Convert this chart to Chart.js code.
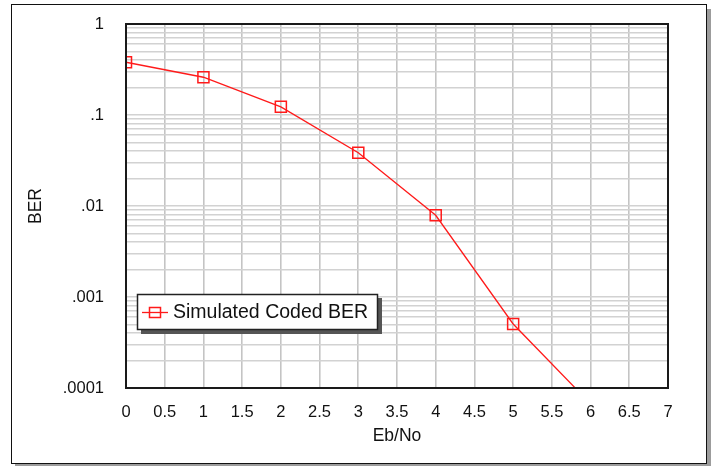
<!DOCTYPE html>
<html>
<head>
<meta charset="utf-8">
<script src="https://cdn.jsdelivr.net/npm/chart.js@4/dist/chart.umd.min.js"></script>
<style>
  html, body { margin: 0; padding: 0; background: #fff; }
  #wrap { position: relative; width: 713px; height: 466px; }
</style>
</head>
<body>
<div id="wrap"><canvas id="c" width="713" height="466"></canvas></div>
<script>
// Eb/No sweep (dB) and the simulated coded bit error rate at each step
const ebNo = [0, 1, 2, 3, 4, 5, 6];
const codedBer = [0.38, 0.26, 0.123, 0.0385, 0.0079, 0.000505, 0.000067];
const seriesLabel = 'Simulated Coded BER';

// Log axis: decades with their printed labels, plus minor significands for grid lines
const berDecades = [0.0001, 0.001, 0.01, 0.1, 1];
const berDecadeLabels = ['.0001', '.001', '.01', '.1', '1'];
const minorSignificands = [2, 3, 4, 5, 6, 7, 8, 9];

const FONT = "'Liberation Sans', Arial, Helvetica, sans-serif";

// Page frame with a drop shadow behind the whole figure
const framePlugin = {
  id: 'frame',
  beforeDraw(chart) {
    const ctx = chart.ctx;
    ctx.save();
    ctx.fillStyle = '#ffffff';
    ctx.fillRect(0, 0, chart.width, chart.height);
    ctx.fillStyle = '#9c9c9c';
    ctx.fillRect(707, 9, 4, 458);
    ctx.fillRect(15, 464, 696, 3);
    ctx.strokeStyle = '#111';
    ctx.lineWidth = 1;
    ctx.strokeRect(11.5, 4.5, 695, 459);
    ctx.restore();
  }
};

// Box around the plotting area and the boxed legend
const boxPlugin = {
  id: 'plotBox',
  afterDatasetsDraw(chart) {
    const { ctx, chartArea: a } = chart;
    ctx.save();
    ctx.strokeStyle = '#1a1a1a';
    ctx.lineWidth = 2;
    ctx.strokeRect(a.left, a.top, a.right - a.left, a.bottom - a.top);

    // legend
    const ds = chart.data.datasets[0];
    const lx = a.left + 11, ly = a.top + 270, lw = 241, lh = 36;
    ctx.fillStyle = '#555';
    ctx.fillRect(lx + 4, ly + 4, lw, lh);
    ctx.fillStyle = '#fff';
    ctx.fillRect(lx, ly, lw, lh);
    ctx.strokeStyle = '#222';
    ctx.lineWidth = 1.5;
    ctx.strokeRect(lx + 0.5, ly + 0.5, lw - 1, lh - 1);
    const cy = ly + lh / 2 + 0.5;
    ctx.strokeStyle = ds.borderColor;
    ctx.lineWidth = 1.3;
    ctx.beginPath();
    ctx.moveTo(lx + 5, cy);
    ctx.lineTo(lx + 31, cy);
    ctx.stroke();
    ctx.lineWidth = 1.5;
    ctx.strokeRect(lx + 12.5, cy - 5, 11, 10);
    ctx.fillStyle = '#111';
    ctx.font = '19.5px ' + FONT;
    ctx.textAlign = 'left';
    ctx.textBaseline = 'middle';
    ctx.fillText(ds.label, lx + 36, cy);
    ctx.restore();
  }
};

const yTickValues = [];
berDecades.forEach((d, i) => {
  yTickValues.push(d);
  if (i < berDecades.length - 1) minorSignificands.forEach(s => yTickValues.push(+(s * d).toPrecision(3)));
});

new Chart(document.getElementById('c'), {
  type: 'line',
  data: {
    labels: ebNo,
    datasets: [{
      label: seriesLabel,
      data: ebNo.map((x, i) => ({ x, y: codedBer[i] })),
      borderColor: '#ff1a1a',
      borderWidth: 1.3,
      backgroundColor: 'rgba(0,0,0,0)',
      pointStyle: 'rect',
      pointRadius: 7.8,
      pointBorderWidth: 1.5,
      pointBorderColor: '#ff1a1a',
      pointBackgroundColor: 'rgba(0,0,0,0)',
      tension: 0,
      clip: 0
    }]
  },
  options: {
    responsive: false,
    animation: false,
    events: [],
    layout: { padding: { left: 0, top: 24, right: 45, bottom: 0 } },
    plugins: { legend: { display: false }, tooltip: { enabled: false } },
    scales: {
      x: {
        type: 'linear',
        min: 0, max: 7,
        afterFit(s) { s.height = 78; },
        ticks: {
          stepSize: 0.5, padding: 15, color: '#111', maxRotation: 0, autoSkip: false,
          font: { family: FONT, size: 16.5 },
          callback(v) { return String(Number(v)); }
        },
        grid: { color: '#c4c4c4', lineWidth: 1.6, drawTicks: false },
        border: { display: false },
        title: { display: true, text: 'Eb/No', color: '#111', font: { family: FONT, size: 17.5 }, padding: 19 }
      },
      y: {
        type: 'logarithmic',
        min: 0.0001, max: 1,
        afterFit(s) { s.width = 126; s.paddingTop = 0; s.paddingBottom = 0; },
        afterBuildTicks(s) { s.ticks = yTickValues.map(v => ({ value: v })); },
        ticks: {
          padding: 22, color: '#111', autoSkip: false,
          font: { family: FONT, size: 16.5 },
          callback(v) {
            const i = berDecades.findIndex(d => Math.abs(d - v) / d < 1e-6);
            return i >= 0 ? berDecadeLabels[i] : '';
          }
        },
        grid: { color: '#d2d2d2', lineWidth: 1.5, drawTicks: false },
        border: { display: false },
        title: { display: true, text: 'BER', color: '#111', font: { family: FONT, size: 17.5 }, padding: 26 }
      }
    }
  },
  plugins: [framePlugin, boxPlugin]
});
</script>
</body>
</html>
